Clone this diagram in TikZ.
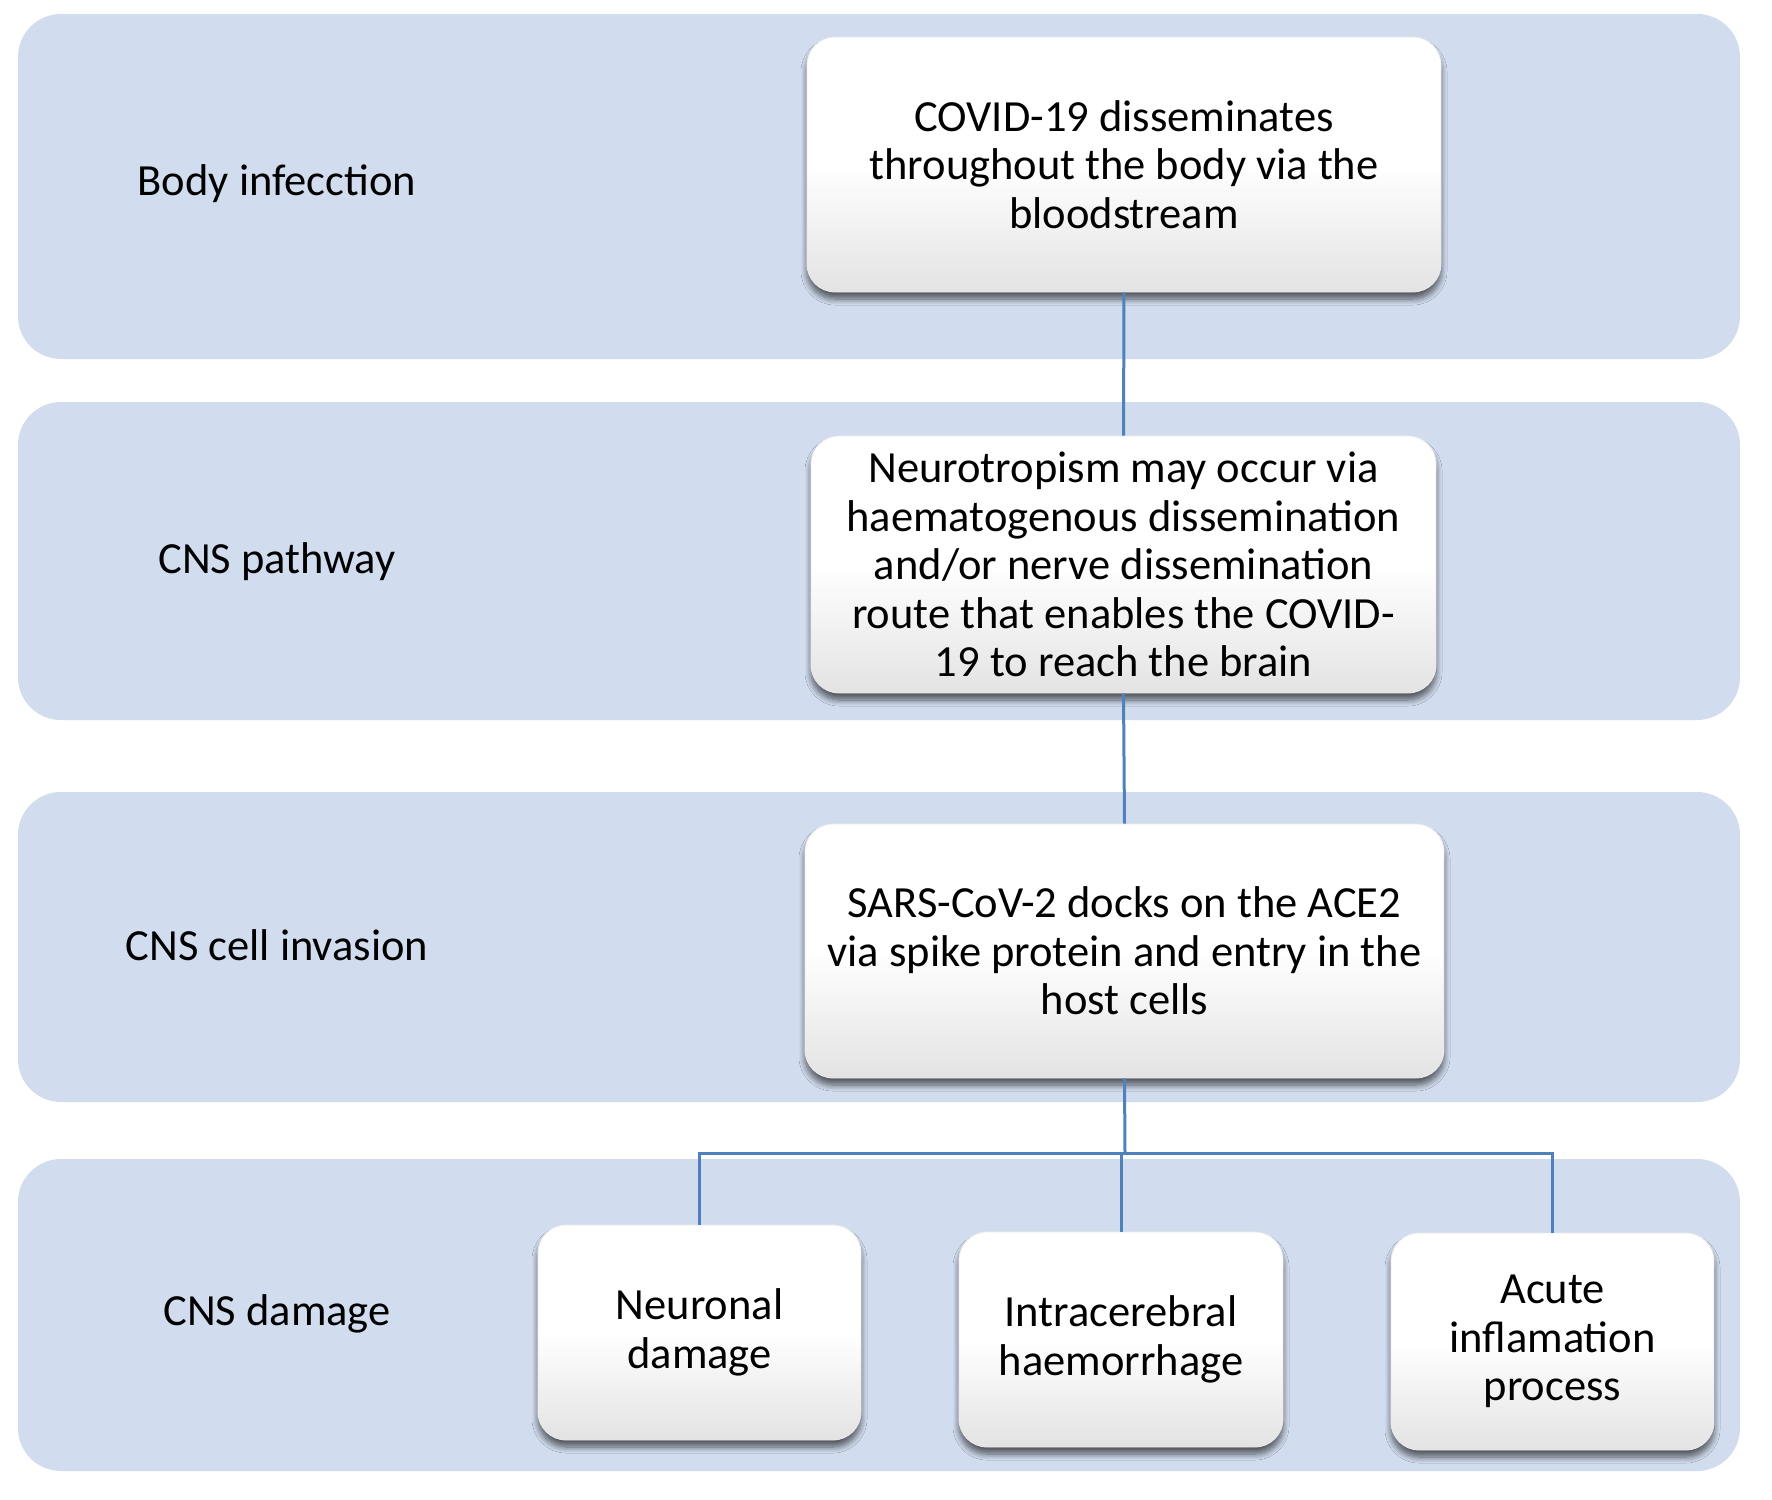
\documentclass[tikz,border=0pt]{standalone}
\usepackage{fontspec}
\setmainfont{Carlito}
\usetikzlibrary{shadows.blur}
\definecolor{bandblue}{HTML}{D1DCEE}
\definecolor{linkblue}{HTML}{4F81BD}
\tikzset{
  band/.style={fill=bandblue, draw=none, rounded corners=43pt},
  bandlabel/.style={font=\fontsize{44.5}{48.6}\selectfont, text=black},
  stepbox/.style={rounded corners=28pt, top color=white, bottom color=black!11, middle color=white,
    draw=black!8, line width=0.8pt,
    blur shadow={shadow xshift=0pt, shadow yshift=-7pt, shadow opacity=60, shadow blur steps=8, shadow blur radius=6pt},
    align=center, font=\fontsize{44.5}{48.6}\selectfont, inner sep=0pt},
  link/.style={draw=linkblue, line width=3pt}
}
\begin{document}
\begin{tikzpicture}[x=1pt, y=-1pt]
\useasboundingbox (0,0) rectangle (1772,1499);
\fill[white] (0,0) rectangle (1772,1499);
% bands
\path[band] (18,14) rectangle (1740,359);
\path[band] (18,402) rectangle (1740,720);
\path[band] (18,792) rectangle (1740,1102);
\path[band] (18,1159) rectangle (1740,1471);
% band labels
\node[bandlabel] (l1) at (277,184) {Body infecction};
\node[bandlabel] (l2) at (277,562) {CNS pathway};
\node[bandlabel] (l3) at (277,945) {CNS cell invasion};
\node[bandlabel] (l4) at (277,1314) {CNS damage};
\coordinate (j) at (1125,1153);
% boxes
\node[stepbox, minimum width=634pt, minimum height=255pt] (b1) at (1124,164.5)
  {COVID-19 disseminates\\throughout the body via the\\bloodstream};
\node[stepbox, minimum width=625pt, minimum height=257pt] (b2) at (1123.5,564.5)
  {Neurotropism may occur via\\haematogenous dissemination\\and/or nerve dissemination\\route that enables the COVID-\\19 to reach the brain};
\node[stepbox, minimum width=639pt, minimum height=254pt] (b3) at (1124.5,951)
  {SARS-CoV-2 docks on the ACE2\\via spike protein and entry in the\\host cells};
\node[stepbox, minimum width=323pt, minimum height=215pt] (b4) at (699.5,1332.5)
  {Neuronal\\damage};
\node[stepbox, minimum width=324pt, minimum height=215pt] (b5) at (1121,1339.5)
  {Intracerebral\\haemorrhage};
\node[stepbox, minimum width=323pt, minimum height=217pt] (b6) at (1552.5,1341.5)
  {Acute\\inflamation\\process};
% connectors
\draw[link] (b1.south) -- (b2.north);
\draw[link] (b2.south) -- (b3.north);
\draw[link] (b3.south) -- (j);
\draw[link] (j) -| (b4.north);
\draw[link] (j) -| (b6.north);
\draw[link] (j) -| (b5.north);
\end{tikzpicture}
\end{document}
